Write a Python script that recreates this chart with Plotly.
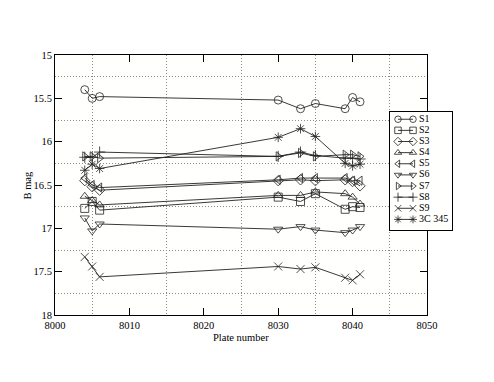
import plotly.graph_objects as go

# Plattennummern (gleich fuer alle Serien)
plates = [8004, 8005, 8006, 8030, 8033, 8035, 8039, 8040, 8041]

# B-Helligkeiten je Objekt
s1 = [15.40, 15.50, 15.48, 15.52, 15.62, 15.56, 15.62, 15.49, 15.54]
s2 = [16.77, 16.69, 16.79, 16.64, 16.69, 16.60, 16.78, 16.75, 16.76]
s3 = [16.45, 16.52, 16.56, 16.45, 16.44, 16.45, 16.44, 16.46, 16.51]
s4 = [16.63, 16.68, 16.73, 16.62, 16.62, 16.58, 16.60, 16.64, 16.72]
s5 = [16.42, 16.50, 16.53, 16.44, 16.42, 16.42, 16.42, 16.45, 16.45]
s6 = [16.88, 17.03, 16.95, 17.01, 16.98, 17.02, 17.05, 17.02, 16.98]
s7 = [16.17, 16.17, 16.19, 16.17, 16.13, 16.17, 16.15, 16.15, 16.17]
s8 = [16.18, 16.18, 16.12, 16.17, 16.12, 16.16, 16.19, 16.19, 16.20]
s9 = [17.33, 17.44, 17.56, 17.44, 17.47, 17.45, 17.57, 17.60, 17.53]
c345 = [16.33, 16.26, 16.31, 15.95, 15.85, 15.94, 16.25, 16.28, 16.26]

names = ["S1", "S2", "S3", "S4", "S5", "S6", "S7", "S8", "S9", "3C 345"]
series = [s1, s2, s3, s4, s5, s6, s7, s8, s9, c345]
symbols = ["circle-open", "square-open", "diamond-open", "triangle-up-open",
           "triangle-left-open", "triangle-down-open", "triangle-right-open",
           "cross-thin-open", "x-thin-open", "asterisk-open"]

FONT = "Liberation Serif"
FS = 10.5

fig = go.Figure()
for name, vals, sym in zip(names, series, symbols):
    fig.add_trace(go.Scatter(
        x=plates, y=vals, name=name, mode="lines+markers", showlegend=False,
        line=dict(color="#222222", width=0.9),
        marker=dict(symbol=sym, size=8, color="#222222",
                    line=dict(color="#222222", width=0.8))
    ))

# Eigene Legende (kompakter als die Plotly-Legende) in einem zweiten Achsenpaar
for i, (name, sym) in enumerate(zip(names, symbols)):
    fig.add_trace(go.Scatter(
        x=[8, 23], y=[i, i], mode="lines+markers", showlegend=False,
        xaxis="x2", yaxis="y2", hoverinfo="skip",
        line=dict(color="#222222", width=0.9),
        marker=dict(symbol=sym, size=6.5, color="#222222",
                    line=dict(color="#222222", width=0.8))
    ))
fig.add_trace(go.Scatter(
    x=[29] * len(names), y=list(range(len(names))), text=names,
    mode="text", textposition="middle right", showlegend=False,
    xaxis="x2", yaxis="y2", hoverinfo="skip",
    textfont=dict(family=FONT, size=10, color="black")
))

axis_common = dict(
    showline=True, linecolor="black", linewidth=1, mirror="ticks",
    ticks="inside", ticklen=7, tickcolor="black", showgrid=False,
    zeroline=False, automargin=False,
    tickfont=dict(family=FONT, size=FS, color="black"),
)
grid_minor = dict(showgrid=True, gridcolor="#8a8a8a", griddash="1px,2px",
                  gridwidth=1, ticks="")

# Seite hat 8px Rand -> Figur etwas kleiner, Raender angepasst
fig.update_layout(
    width=486, height=374,
    margin=dict(l=47, r=34, t=47, b=67, autoexpand=False),
    paper_bgcolor="white", plot_bgcolor="#fffffe",
    font=dict(family=FONT, size=FS, color="black"),
    xaxis=dict(domain=[0, 372 / 405], range=[8000, 8050],
               tickvals=[8000, 8010, 8020, 8030, 8040, 8050],
               minor=dict(tickvals=[8005, 8015, 8025, 8035, 8045], **grid_minor),
               **axis_common),
    yaxis=dict(range=[18, 15], tickvals=[15, 15.5, 16, 16.5, 17, 17.5, 18],
               ticktext=["15", "15.5", "16", "16.5", "17", "17.5", "18"],
               minor=dict(tickvals=[15.25, 15.75, 16.25, 16.75, 17.25, 17.75],
                          **grid_minor),
               **axis_common),
    xaxis2=dict(domain=[335 / 405, 397 / 405], range=[0, 62], anchor="y2",
                showline=True, mirror=True, linecolor="black", linewidth=1,
                showticklabels=False, ticks="", showgrid=False, zeroline=False,
                fixedrange=True),
    yaxis2=dict(domain=[(315 - 230) / 260, (315 - 112) / 260], range=[9.95, -0.65],
                anchor="x2", showline=True, mirror=True, linecolor="black",
                linewidth=1, showticklabels=False, ticks="", showgrid=False,
                zeroline=False, fixedrange=True),
    annotations=[
        dict(text="Plate number", xref="paper", yref="paper",
             x=0.5 * 372 / 405, y=-22 / 260, xanchor="center", yanchor="middle",
             showarrow=False, font=dict(family=FONT, size=FS)),
        dict(text="B mag", xref="paper", yref="paper", textangle=-90,
             x=-28.5 / 405, y=0.5, xanchor="center", yanchor="middle",
             showarrow=False, font=dict(family=FONT, size=FS)),
    ],
)

fig.write_html("out.html")
